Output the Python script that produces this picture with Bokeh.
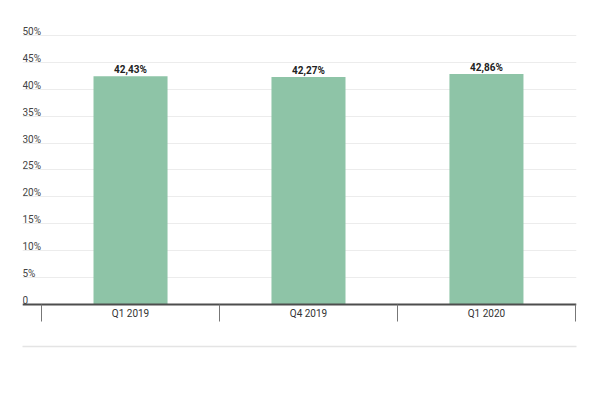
from bokeh.plotting import figure
from bokeh.models import Range1d, LinearAxis, FixedTicker, Grid
from bokeh.core.properties import value
from bokeh.embed import file_html
from bokeh.resources import INLINE
import numpy as np

# ---- data ----
categories = ["Q1 2019", "Q4 2019", "Q1 2020"]
shares = [42.43, 42.27, 42.86]
value_labels = ["42,43%", "42,27%", "42,86%"]
y_ticks = [0, 5, 10, 15, 20, 25, 30, 35, 40, 45, 50]
y_tick_labels = ["0", "5%", "10%", "15%", "20%", "25%", "30%", "35%", "40%", "45%", "50%"]

FONT = "Roboto"
X_LO, X_HI = -0.107, 3.006
Y_LO, Y_HI = -7.81, 52.79

x_pos = [i + 0.5 for i in range(len(categories))]
boundaries = [float(i) for i in range(len(categories) + 1)]

p = figure(width=592, height=399,
           x_range=Range1d(X_LO, X_HI), y_range=Range1d(Y_LO, Y_HI),
           output_backend="svg", toolbar_location=None,
           x_axis_location=None, y_axis_location=None,
           min_border_left=22, min_border_right=16,
           min_border_top=20, min_border_bottom=53)
p.outline_line_color = None
p.background_fill_color = "white"
p.border_fill_color = "white"
for g in p.grid:
    g.visible = False

# horizontal gridlines
grid = Grid(dimension=1, ticker=FixedTicker(ticks=y_ticks),
            grid_line_color="#ececec", grid_line_width=1)
p.add_layout(grid)

# bars
p.vbar(x=x_pos, top=shares, bottom=0, width=0.416,
       fill_color="#8ec4a7", line_color=None)

# value labels
p.text(x=x_pos, y=shares, text=value_labels,
       text_font=value(FONT), text_font_size="10px", text_font_style="bold",
       text_color="#222222", text_align="center", text_baseline="bottom",
       y_offset=-1)

# y tick labels (sit above gridlines, left aligned)
p.text(x=[X_LO] * len(y_ticks), y=y_ticks, text=y_tick_labels,
       text_font=value(FONT), text_font_size="10px",
       text_color="#444444", text_align="left", text_baseline="alphabetic",
       y_offset=-4)

# light separator line at frame bottom
sep = LinearAxis(ticker=FixedTicker(ticks=[]), axis_line_color="#e4e4e4",
                 axis_line_width=1.5, major_tick_line_color=None,
                 minor_tick_line_color=None, major_label_text_font_size="0px")
p.add_layout(sep, "below")

# category axis at y=0
label_map = {x: c for x, c in zip(x_pos, categories)}
cat_axis = LinearAxis(fixed_location=0,
                      ticker=FixedTicker(ticks=x_pos, minor_ticks=boundaries),
                      major_label_overrides=label_map,
                      axis_line_color="#4d4d4d", axis_line_width=2,
                      major_tick_line_color=None,
                      minor_tick_line_color="#777777", minor_tick_line_width=1,
                      minor_tick_in=0, minor_tick_out=17,
                      major_tick_in=0, major_tick_out=0,
                      major_label_standoff=-13,
                      major_label_text_font=FONT,
                      major_label_text_font_size="10px",
                      major_label_text_color="#333333")
p.add_layout(cat_axis, "below")

open("out.html", "w").write(file_html(p, INLINE))
